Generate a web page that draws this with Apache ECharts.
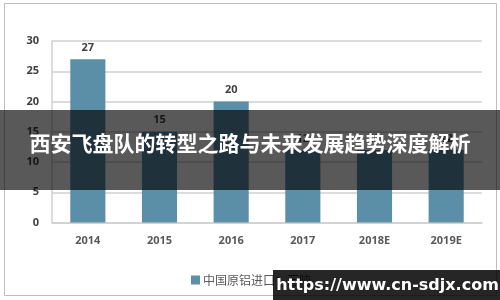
<!DOCTYPE html>
<html><head><meta charset="utf-8">
<script src="https://cdn.jsdelivr.net/npm/echarts@6/dist/echarts.min.js"></script>
<style>html,body{margin:0;padding:0;background:#fff}#c{width:500px;height:300px}</style>
</head><body><div id="c"></div>
<script>
const categories = ['2014', '2015', '2016', '2017', '2018E', '2019E'];
const values = [27, 15, 20, 12, 12, 12];
const seriesName = '中国原铝进口：万吨';
const yTicks = [0, 5, 10, 15, 20, 25, 30];
const bannerText = '西安飞盘队的转型之路与未来发展趋势深度解析';
const watermarkText = 'https://www.cn-sdjx.com';

const chart = echarts.init(document.getElementById('c'), null, {renderer: 'canvas'});
const font = '"Noto Sans CJK SC", "Open Sans", sans-serif';
chart.setOption({
  animation: false,
  backgroundColor: '#fff',
  textStyle: {fontFamily: font},
  grid: {left: 52, right: 18, top: 41, bottom: 77.4, containLabel: false},
  legend: {
    data: [seriesName], left: 186, top: 269, itemWidth: 9, itemHeight: 9, itemGap: 4,
    icon: 'rect',
    textStyle: {color: '#595959', fontSize: 12, fontFamily: font, padding: [0,0,0,-2]}
  },
  xAxis: {
    type: 'category', data: categories,
    axisLine: {show: true, lineStyle: {color: '#d0d0d0', width: 1.5}},
    axisTick: {show: false},
    axisLabel: {color: '#595959', fontSize: 11, fontWeight: 'bold', margin: 13, fontFamily: '"Open Sans", sans-serif'}
  },
  yAxis: {
    type: 'value', min: yTicks[0], max: yTicks[yTicks.length-1], interval: 5,
    axisLine: {show: true, lineStyle: {color: '#d0d0d0', width: 1.5}},
    axisTick: {show: false},
    splitLine: {lineStyle: {color: '#d0d0d0', width: 1.5}},
    axisLabel: {color: '#404040', fontSize: 11, fontWeight: 'bold', margin: 13, fontFamily: '"Open Sans", sans-serif'}
  },
  series: [{
    name: seriesName, type: 'bar', data: values, barWidth: '49%',
    itemStyle: {color: '#5b8fa8'},
    label: {show: true, position: 'top', color: '#404040', fontSize: 11, fontWeight: 'bold', distance: 6, fontFamily: '"Open Sans", sans-serif'}
  }],
  graphic: [
    {type: 'rect', shape: {x: 4.5, y: 3.5, width: 492, height: 292}, style: {fill: 'none', stroke: '#bfbfbf', lineWidth: 1}, z: 0, silent: true},
    {type: 'rect', shape: {x: 0, y: 110, width: 500, height: 80}, style: {fill: 'rgba(0,0,0,0.65)'}, z: 100},
    {type: 'text', x: 250, y: 143, style: {text: bannerText, fill: '#fff', font: 'bold 21px "Noto Sans CJK SC"', textAlign: 'center', textVerticalAlign: 'middle'}, z: 101},
    {type: 'rect', shape: {x: 273, y: 270, width: 227, height: 30}, style: {fill: 'rgba(0,0,0,0.85)'}, z: 100},
    {type: 'text', x: 387.5, y: 286, style: {text: watermarkText, fill: '#fff', font: 'bold 16px "DejaVu Sans"', textAlign: 'center', textVerticalAlign: 'middle'}, z: 101}
  ]
});
</script></body></html>
